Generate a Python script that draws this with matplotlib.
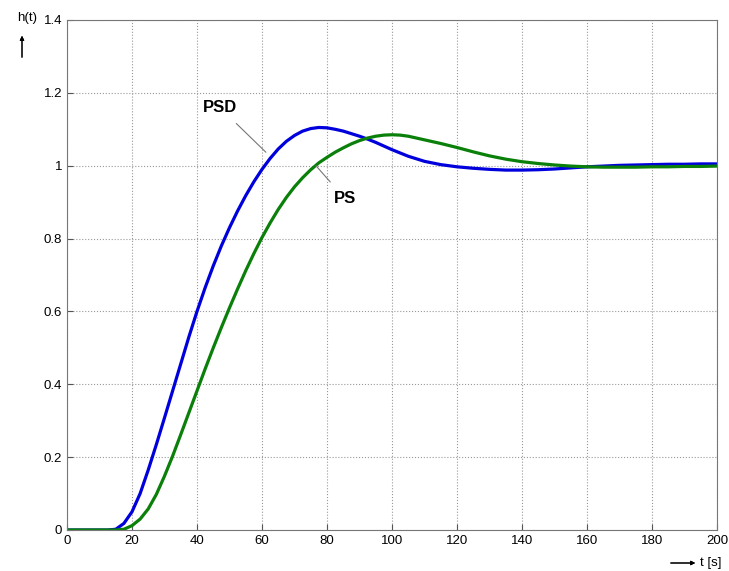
import numpy as np
import matplotlib.pyplot as plt

plt.rcParams['font.family'] = ['Liberation Sans', 'DejaVu Sans']

# step response samples
t = [0, 5, 10, 12.5, 15, 17.5, 20, 22.5, 25, 27.5, 30, 32.5, 35, 37.5, 40, 42.5,
     45, 47.5, 50, 52.5, 55, 57.5, 60, 62.5, 65, 67.5, 70, 72.5, 75, 77.5, 80,
     82.5, 85, 87.5, 90, 92.5, 95, 97.5, 100, 102.5, 105, 107.5, 110, 115, 120,
     125, 130, 135, 140, 145, 150, 155, 160, 165, 170, 175, 180, 185, 190, 195, 200]
h_psd = [0, 0, 0, 0, 0.002, 0.018, 0.05, 0.10, 0.165, 0.235, 0.308, 0.382, 0.456,
         0.53, 0.60, 0.665, 0.725, 0.78, 0.83, 0.876, 0.918, 0.956, 0.99, 1.02, 1.046,
         1.067, 1.083, 1.095, 1.102, 1.105, 1.104, 1.100, 1.095, 1.088, 1.081, 1.073,
         1.064, 1.054, 1.044, 1.035, 1.026, 1.019, 1.012, 1.003, 0.997, 0.993, 0.990,
         0.988, 0.988, 0.989, 0.991, 0.994, 0.997, 0.999, 1.001, 1.002, 1.003, 1.004,
         1.004, 1.005, 1.005]
h_ps = [0, 0, 0, 0, 0, 0.002, 0.012, 0.03, 0.058, 0.098, 0.148, 0.203, 0.262, 0.322,
        0.382, 0.442, 0.50, 0.556, 0.61, 0.662, 0.712, 0.759, 0.803, 0.843, 0.88,
        0.913, 0.942, 0.967, 0.989, 1.008, 1.023, 1.037, 1.049, 1.06, 1.069, 1.076,
        1.081, 1.084, 1.085, 1.084, 1.081, 1.076, 1.071, 1.061, 1.05, 1.038, 1.027,
        1.018, 1.011, 1.006, 1.002, 0.999, 0.997, 0.996, 0.996, 0.996, 0.997, 0.997,
        0.998, 0.998, 0.999]

xticks = np.arange(0, 201, 20)
yticks = [0, 0.2, 0.4, 0.6, 0.8, 1, 1.2, 1.4]
yticklabels = ['0', '0.2', '0.4', '0.6', '0.8', '1', '1.2', '1.4']

fig = plt.figure(figsize=(7.29, 5.71), dpi=100)
ax = fig.add_axes([67 / 729, 1 - 530 / 571, 650 / 729, 510 / 571])

ax.plot(t, h_psd, color='#0000dd', lw=2.3, solid_joinstyle='round')
ax.plot(t, h_ps, color='#0a800a', lw=2.3, solid_joinstyle='round')

ax.set_xlim(0, 200)
ax.set_ylim(0, 1.4)
ax.set_xticks(xticks)
ax.set_yticks(yticks)
ax.set_yticklabels(yticklabels)
ax.tick_params(direction='in', labelsize=9.5, length=4, color='#555555')
ax.grid(True, ls=':', color='#999999', lw=0.8)
for s in ax.spines.values():
    s.set_color('#777777')

ax.annotate('PSD', xy=(61.2, 1.037), xytext=(47, 1.16), fontsize=12, fontweight='bold',
            ha='center', va='center',
            arrowprops=dict(arrowstyle='-', color='#777777', lw=0.8, shrinkA=6, shrinkB=0))
ax.annotate('PS', xy=(76.6, 1.0), xytext=(85.5, 0.91), fontsize=12, fontweight='bold',
            ha='center', va='center',
            arrowprops=dict(arrowstyle='-', color='#777777', lw=0.8, shrinkA=6, shrinkB=0))

# axis labels with arrows
fig.text(27 / 729, 1 - 18 / 571, 'h(t)', fontsize=9.5, ha='center', va='center')
fig.add_artist(plt.annotate('', xy=(22 / 729, 1 - 33 / 571), xytext=(22 / 729, 1 - 60 / 571),
                            xycoords='figure fraction', textcoords='figure fraction',
                            arrowprops=dict(arrowstyle='-|>', color='black', lw=0.8,
                                            mutation_scale=6)))
fig.text(700 / 729, 1 - 563 / 571, 't [s]', fontsize=9.5, ha='left', va='center')
fig.add_artist(plt.annotate('', xy=(698 / 729, 1 - 563 / 571), xytext=(668 / 729, 1 - 563 / 571),
                            xycoords='figure fraction', textcoords='figure fraction',
                            arrowprops=dict(arrowstyle='-|>', color='black', lw=0.8,
                                            mutation_scale=6)))

fig.savefig('out.png', dpi=100)
